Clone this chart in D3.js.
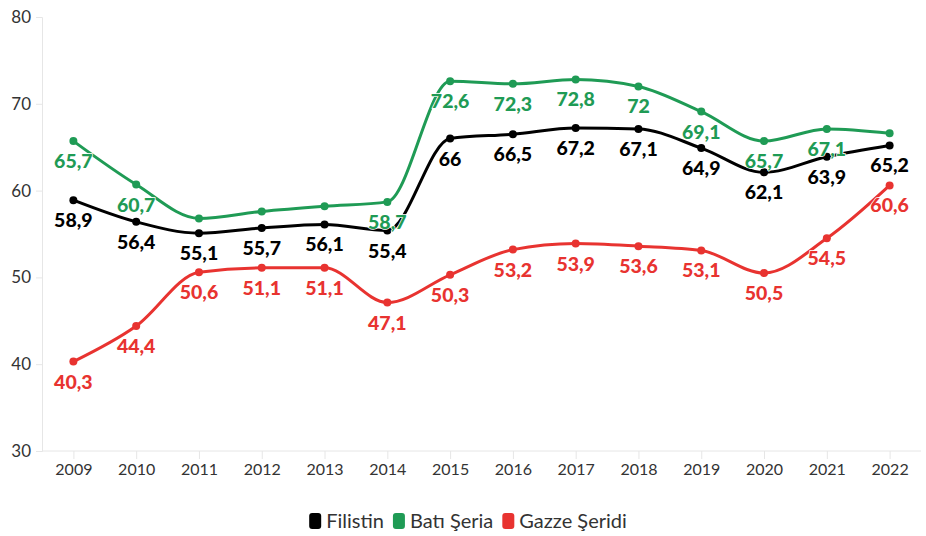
<!DOCTYPE html>
<html>
<head>
<meta charset="utf-8">
<script src="https://cdn.jsdelivr.net/npm/d3@7"></script>
<style>
  body { margin: 0; background: #fff; }
  svg { display: block; font-family: Lato, "Noto Sans", sans-serif; }
</style>
</head>
<body>
<svg width="926" height="536"></svg>
<script>
(function(d3) {
    "use strict";

var years = ["2009", "2010", "2011", "2012", "2013", "2014", "2015", "2016", "2017", "2018", "2019", "2020", "2021", "2022"],
    filistin = [58.9, 56.4, 55.1, 55.7, 56.1, 55.4, 66, 66.5, 67.2, 67.1, 64.9, 62.1, 63.9, 65.2],
    batiSeria = [65.7, 60.7, 56.8, 57.6, 58.2, 58.7, 72.6, 72.3, 72.8, 72, 69.1, 65.7, 67.1, 66.6],
    gazze = [40.3, 44.4, 50.6, 51.1, 51.1, 47.1, 50.3, 53.2, 53.9, 53.6, 53.1, 50.5, 54.5, 60.6],
    yTicks = [30, 40, 50, 60, 70, 80],
    // labels the chart leaves out where they would collide
    batiHidden = ["2011", "2012", "2013", "2022"];

var series = [
    { name: "Filistin", color: "#000000", values: filistin, hidden: [] },
    { name: "Batı Şeria", color: "#1f9b55", values: batiSeria, hidden: batiHidden },
    { name: "Gazze Şeridi", color: "#e83330", values: gazze, hidden: [] }
];

var svg = d3.select("svg"),
    left = 42, right = 921, top = 17, bottom = 451;

var x = d3.scalePoint().domain(years).range([left, right]).padding(0.5),
    y = d3.scaleLinear().domain([30, 80]).range([bottom, top]);

// axes
var yAxis = svg.append("g")
    .attr("transform", "translate(" + left + ",0)")
    .call(d3.axisLeft(y).tickValues(yTicks).tickSize(6).tickPadding(5));
yAxis.select(".domain").attr("stroke", "#e6e6e6");
yAxis.selectAll(".tick line").attr("stroke", "#e6e6e6");
yAxis.selectAll(".tick text")
    .attr("fill", "#333")
    .style("font-size", "17px")
    .style("font-family", "Lato, sans-serif");

var xAxis = svg.append("g")
    .attr("transform", "translate(0," + bottom + ")")
    .call(d3.axisBottom(x).tickSize(8).tickPadding(5).tickSizeOuter(0));
xAxis.select(".domain").attr("stroke", "#e6e6e6").attr("d", "M" + left + ",0H" + right);
xAxis.selectAll(".tick line").attr("stroke", "#e6e6e6");
xAxis.selectAll(".tick text")
    .attr("fill", "#333")
    .style("font-size", "16px")
    .style("font-family", "Lato, sans-serif");

var line = d3.line()
    .x(function(d, i) { return x(years[i]); })
    .y(function(d) { return y(d); })
    .curve(d3.curveMonotoneX);

var groups = svg.selectAll("g.series")
    .data(series)
    .enter().append("g")
    .attr("class", "series");

groups.append("path")
    .attr("fill", "none")
    .attr("stroke", function(s) { return s.color; })
    .attr("stroke-width", 3)
    .attr("d", function(s) { return line(s.values); });

groups.selectAll("circle")
    .data(function(s) { return s.values.map(function(v, i) { return { v: v, i: i, s: s }; }); })
    .enter().append("circle")
    .attr("cx", function(d) { return x(years[d.i]); })
    .attr("cy", function(d) { return y(d.v); })
    .attr("r", 4)
    .attr("fill", function(d) { return d.s.color; });

// value labels, drawn on top of all lines
var labels = svg.append("g");
series.forEach(function(s) {
    labels.selectAll(null)
        .data(s.values.map(function(v, i) { return { v: v, i: i }; })
            .filter(function(d) { return s.hidden.indexOf(years[d.i]) < 0; }))
        .enter().append("text")
        .attr("x", function(d) { return x(years[d.i]); })
        .attr("y", function(d) { return y(d.v) + 27; })
        .attr("text-anchor", "middle")
        .attr("fill", s.color)
        .attr("stroke", "#fff")
        .attr("stroke-width", 1.5)
        .attr("paint-order", "stroke")
        .style("font-size", "19.5px")
        .style("font-weight", "900")
        .text(function(d) { return String(d.v).replace(".", ","); });
});

// legend, centred under the plot
var legend = svg.append("g").attr("transform", "translate(0,521)");
var lx = 0;
series.forEach(function(s) {
    legend.append("rect")
        .attr("x", lx).attr("y", -8)
        .attr("width", 12).attr("height", 16)
        .attr("rx", 3)
        .attr("fill", s.color);
    var t = legend.append("text")
        .attr("x", lx + 17).attr("y", 7)
        .attr("fill", "#333")
        .style("font-size", "20px")
        .text(s.name);
    lx += 17 + t.node().getComputedTextLength() + 9;
});
legend.attr("transform", "translate(" + (468 - (lx - 9) / 2) + ",521)");

}(d3));
</script>
</body>
</html>
